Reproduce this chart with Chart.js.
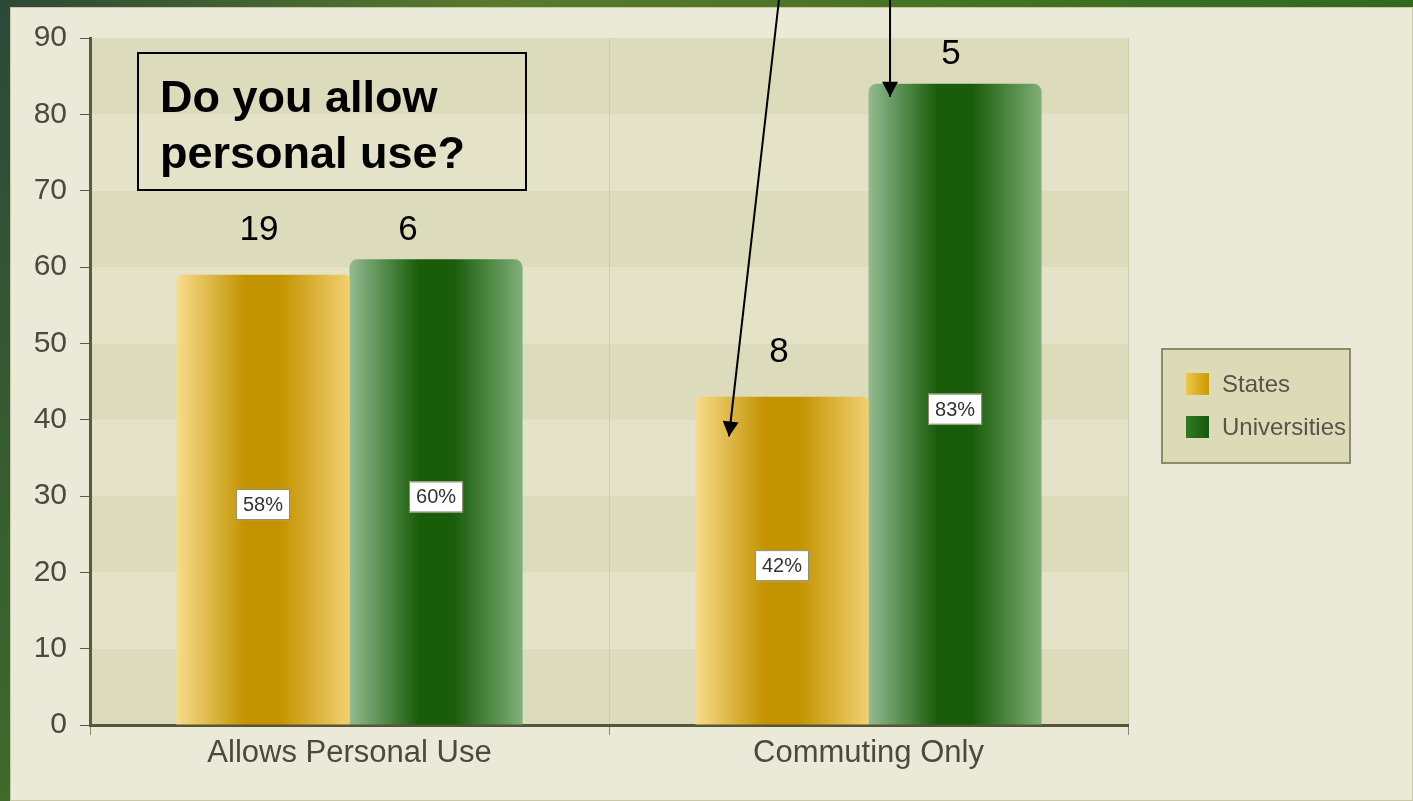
<!DOCTYPE html>
<html>
<head>
<meta charset="utf-8">
<script src="https://cdn.jsdelivr.net/npm/chart.js@4.4.1/dist/chart.umd.min.js"></script>
<style>
  html, body { margin: 0; padding: 0; background: #ebe9d8; }
  #wrap { width: 1413px; height: 801px; position: relative; }
</style>
</head>
<body>
<div id="wrap"><canvas id="usoChart" width="1413" height="801"></canvas></div>
<script>
// datos
const categories = ['Allows Personal Use', 'Commuting Only'];
const seriesNames = ['States', 'Universities'];
const statesValues = [59, 43];
const univValues = [61, 84];
const statesPct = ['58%', '42%'];
const univPct = ['60%', '83%'];
const statesCounts = ['19', '8'];
const univCounts = ['6', '5'];
const yTicks = [0, 10, 20, 30, 40, 50, 60, 70, 80, 90];

const CAT_PCT = 0.667;
const FONT = '"Liberation Sans", Arial, sans-serif';

// gradiente horizontal de cada barra
function barGradient(ctx, dsIndex, light1, dark, light2) {
  const chart = ctx.chart;
  const x = chart.scales && chart.scales.x;
  if (!chart.chartArea || !x || ctx.dataIndex === undefined) return dark;
  const catW = x.width / categories.length;
  const barW = catW * CAT_PCT / 2;
  const center = x.getPixelForValue(ctx.dataIndex);
  const left = center - catW * CAT_PCT / 2 + dsIndex * barW;
  const g = chart.ctx.createLinearGradient(left, 0, left + barW, 0);
  g.addColorStop(0, light1);
  g.addColorStop(0.4, dark);
  g.addColorStop(0.6, dark);
  g.addColorStop(1, light2);
  return g;
}

const fondo = {
  id: 'fondo',
  beforeDraw(chart) {
    const c = chart.ctx;
    const a = chart.chartArea;
    const y = chart.scales.y;
    c.save();
    // marco verde arriba y a la izquierda
    const top = c.createLinearGradient(0, 0, chart.width, 0);
    top.addColorStop(0, '#2b4a37');
    top.addColorStop(0.35, '#5a7a2c');
    top.addColorStop(1, '#2f6a1c');
    c.fillStyle = top;
    c.fillRect(0, 0, chart.width, 7);
    const left = c.createLinearGradient(0, 0, 0, chart.height);
    left.addColorStop(0, '#2b4a3a');
    left.addColorStop(1, '#3f6a2a');
    c.fillStyle = left;
    c.fillRect(0, 0, 10, chart.height);
    c.fillStyle = '#ebe9d8';
    c.fillRect(10, 7, chart.width - 10, chart.height - 7);
    c.strokeStyle = '#c9c7a4';
    c.lineWidth = 1;
    c.strokeRect(10.5, 7.5, chart.width - 11, chart.height - 8);
    // bandas alternas
    for (let i = 0; i < yTicks.length - 1; i++) {
      const y0 = y.getPixelForValue(yTicks[i]);
      const y1 = y.getPixelForValue(yTicks[i + 1]);
      c.fillStyle = i % 2 === 0 ? '#dcdbbc' : '#e4e3c8';
      c.fillRect(a.left, y1, a.right - a.left, y0 - y1);
    }
    c.restore();
  }
};

const etiquetas = {
  id: 'etiquetas',
  afterDatasetsDraw(chart) {
    const c = chart.ctx;
    const pcts = [statesPct, univPct];
    const counts = [statesCounts, univCounts];
    const offs = [44, 29];
    // desplazamiento horizontal de los numeros (puestos a mano en el original)
    const dx = [[-4, -3], [-28, -4]];
    c.save();
    chart.data.datasets.forEach((ds, di) => {
      const meta = chart.getDatasetMeta(di);
      meta.data.forEach((bar, i) => {
        // cajita blanca con el porcentaje
        const my = (bar.y + bar.base) / 2 + 5;
        c.font = '20px ' + FONT;
        const tw = c.measureText(pcts[di][i]).width;
        const bw = tw + 14, bh = 31;
        c.fillStyle = '#ffffff';
        c.fillRect(bar.x - bw / 2, my - bh / 2, bw, bh);
        c.strokeStyle = '#8a8a70';
        c.lineWidth = 1;
        c.strokeRect(bar.x - bw / 2 + 0.5, my - bh / 2 + 0.5, bw - 1, bh - 1);
        c.fillStyle = '#333333';
        c.textAlign = 'center';
        c.textBaseline = 'middle';
        c.fillText(pcts[di][i], bar.x, my + 1);
        // numero encima
        c.font = '35px ' + FONT;
        c.fillStyle = '#000000';
        c.fillText(counts[di][i], bar.x + dx[di][i], bar.y - offs[di]);
      });
    });
    c.restore();
  },
  afterDraw(chart) {
    const c = chart.ctx;
    const a = chart.chartArea;
    c.save();
    // caja de la pregunta
    const bx = a.left + 48, by = 53, bw = 388, bh = 137;
    c.strokeStyle = '#000';
    c.lineWidth = 2;
    c.strokeRect(bx, by, bw, bh);
    c.fillStyle = '#000';
    c.font = 'bold 45px ' + FONT;
    c.textAlign = 'left';
    c.textBaseline = 'alphabetic';
    c.fillText('Do you allow', bx + 22, 112);
    c.fillText('personal use?', bx + 22, 168);

    // flechas hacia las barras de Commuting Only
    const sBar = chart.getDatasetMeta(0).data[1];
    const uBar = chart.getDatasetMeta(1).data[1];
    const y = chart.scales.y;
    const arrow = (x0, y0, x1, y1) => {
      c.strokeStyle = '#000';
      c.fillStyle = '#000';
      c.lineWidth = 2;
      c.beginPath();
      c.moveTo(x0, y0);
      c.lineTo(x1, y1);
      c.stroke();
      const ang = Math.atan2(y1 - y0, x1 - x0);
      const L = 15, W = 8;
      c.beginPath();
      c.moveTo(x1, y1);
      c.lineTo(x1 - L * Math.cos(ang) + W * Math.sin(ang), y1 - L * Math.sin(ang) - W * Math.cos(ang));
      c.lineTo(x1 - L * Math.cos(ang) - W * Math.sin(ang), y1 - L * Math.sin(ang) + W * Math.cos(ang));
      c.closePath();
      c.fill();
    };
    arrow(sBar.x - 3, 0, sBar.x - 53, y.getPixelForValue(37.8));
    arrow(uBar.x - 65, 0, uBar.x - 65, y.getPixelForValue(82.3));

    // leyenda
    const lx = 1162, ly = 349, lw = 188, lh = 114;
    c.fillStyle = '#dcdab7';
    c.fillRect(lx, ly, lw, lh);
    c.strokeStyle = '#8c8b6c';
    c.lineWidth = 2;
    c.strokeRect(lx, ly, lw, lh);
    const sw = [['#f0c850', '#c89a00'], ['#2f7a22', '#165a0a']];
    chart.data.datasets.forEach((ds, i) => {
      const ry = ly + 35 + i * 43;
      const g = c.createLinearGradient(lx + 24, 0, lx + 47, 0);
      g.addColorStop(0, sw[i][0]);
      g.addColorStop(1, sw[i][1]);
      c.fillStyle = g;
      c.fillRect(lx + 24, ry - 11, 23, 22);
      c.fillStyle = '#555548';
      c.font = '24px ' + FONT;
      c.textBaseline = 'middle';
      c.fillText(ds.label, lx + 60, ry + 1);
    });
    c.restore();
  }
};

const ctx = document.getElementById('usoChart').getContext('2d');
const chart = new Chart(ctx, {
  type: 'bar',
  data: {
    labels: categories,
    datasets: [
      {
        label: seriesNames[0],
        data: statesValues,
        backgroundColor: (c) => barGradient(c, 0, '#f7dc8c', '#c39300', '#f2d070'),
        borderRadius: { topLeft: 5, topRight: 5 },
        borderSkipped: 'bottom',
        categoryPercentage: CAT_PCT,
        barPercentage: 1.0,
      },
      {
        label: seriesNames[1],
        data: univValues,
        backgroundColor: (c) => barGradient(c, 1, '#93bb90', '#195c0a', '#80af78'),
        borderRadius: { topLeft: 8, topRight: 8 },
        borderSkipped: 'bottom',
        categoryPercentage: CAT_PCT,
        barPercentage: 1.0,
      },
    ],
  },
  options: {
    responsive: false,
    animation: false,
    layout: { padding: { top: 38, right: 285, left: 0, bottom: 0 } },
    plugins: { legend: { display: false }, tooltip: { enabled: false } },
    scales: {
      x: {
        offset: true,
        grid: { display: true, offset: true, color: '#cfcdac', tickLength: 10, tickColor: '#8a896a' },
        border: { display: true, color: '#55553a', width: 3 },
        ticks: { color: '#4a4a3e', font: { size: 31, family: FONT }, padding: 0 },
        afterFit(scale) { scale.height = 76; },
      },
      y: {
        min: 0,
        max: 90,
        ticks: { stepSize: 10, color: '#4a4a3e', padding: 13, font: { size: 30, family: FONT } },
        grid: { drawOnChartArea: false, tickLength: 10, color: '#5b5a3c' },
        border: { display: true, color: '#5b5a3c', width: 3 },
        afterFit(scale) { scale.width = 90; },
      },
    },
  },
  plugins: [fondo, etiquetas],
});
</script>
</body>
</html>
